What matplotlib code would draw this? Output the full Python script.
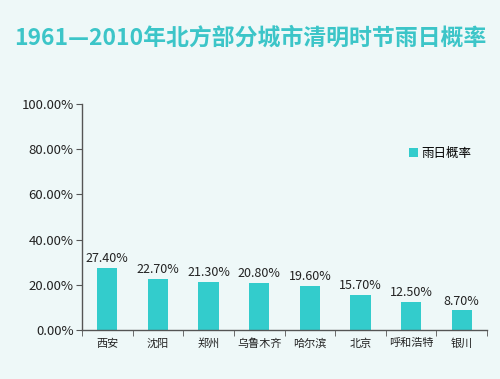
import matplotlib.pyplot as plt
import numpy as np

plt.rcParams['font.family'] = ['Noto Sans CJK SC', 'DejaVu Sans']

cities = ["西安", "沈阳", "郑州", "乌鲁木齐", "哈尔滨", "北京", "呼和浩特", "银川"]
rain_prob = [27.4, 22.7, 21.3, 20.8, 19.6, 15.7, 12.5, 8.7]
title = "1961—2010年北方部分城市清明时节雨日概率"
series_name = "雨日概率"

bg = "#eef8f8"
bar_color = "#33cccc"
axis_color = "#555555"

fig = plt.figure(figsize=(5.0, 3.79), dpi=100, facecolor=bg)
ax = fig.add_axes([0.164, 0.129, 0.81, 0.597], facecolor=bg)

x = np.arange(len(cities))
bars = ax.bar(x, rain_prob, width=0.4, color=bar_color, label=series_name, zorder=2)
for xi, v in zip(x, rain_prob):
    ax.text(xi, v + 1.2, f"{v:.2f}%", ha="center", va="bottom", fontsize=9, color="#222222")

ax.set_xlim(-0.5, len(cities) - 0.5)
ax.set_ylim(0, 100)
ax.set_yticks(np.arange(0, 101, 20))
ax.set_yticklabels([f"{t:.2f}%" for t in np.arange(0, 101, 20)], fontsize=9.5, color="#222222")
ax.set_xticks(x)
ax.set_xticklabels(cities, fontsize=8, color="#222222")
ax.tick_params(axis="x", length=0, pad=6)
ax.set_xticks(np.arange(-0.5, len(cities)), minor=True)
ax.tick_params(axis="x", which="minor", length=4, color=axis_color)
ax.tick_params(axis="y", length=4, color=axis_color, pad=2)

for s in ["top", "right"]:
    ax.spines[s].set_visible(False)
for s in ["left", "bottom"]:
    ax.spines[s].set_color(axis_color)
    ax.spines[s].set_linewidth(1.0)

ax.legend(loc="upper left", bbox_to_anchor=(0.78, 0.86), frameon=False,
          fontsize=9, handlelength=0.7, handleheight=0.7, handletextpad=0.3)

fig.text(0.5, 0.9, title, ha="center", va="center", fontsize=16.5,
         fontweight="heavy", color="#3cc5c8")

fig.savefig("out.png", dpi=100, facecolor=bg)
